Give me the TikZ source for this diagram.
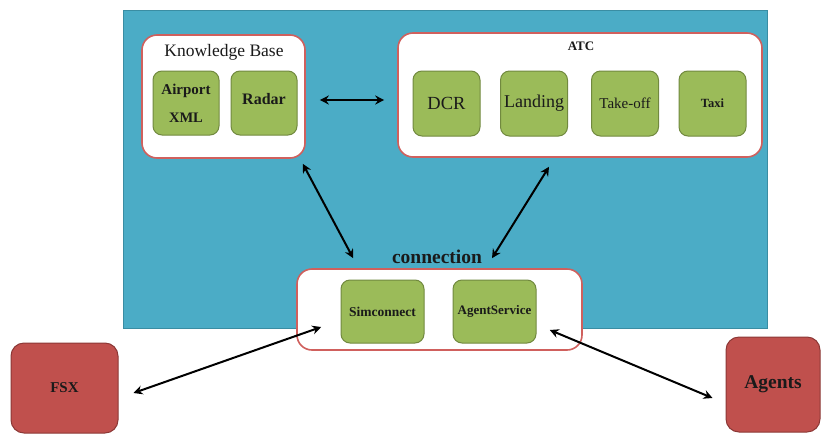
\documentclass[tikz,border=0pt]{standalone}
\usepackage{fontspec}
\setmainfont{Liberation Serif}
\usetikzlibrary{arrows.meta}
\definecolor{bgblue}{HTML}{4BACC6}
\definecolor{bgblueb}{HTML}{3A8DA3}
\definecolor{grn}{HTML}{9BBB59}
\definecolor{grnb}{HTML}{71893F}
\definecolor{redf}{HTML}{C0504D}
\definecolor{redb}{HTML}{8C3836}
\definecolor{pinkb}{HTML}{D0605D}
\definecolor{txt}{HTML}{1A1A1A}
\newcommand{\fs}[1]{\fontsize{#1}{#1}\selectfont}
\begin{document}
\begin{tikzpicture}[x=1pt,y=-1pt,
  groupbox/.style={draw=pinkb,fill=white,line width=1.6pt,rounded corners=15pt,inner sep=0pt},
  greenbox/.style={draw=grnb,fill=grn,line width=1pt,rounded corners=9pt,inner sep=0pt,
    minimum width=66pt,minimum height=64pt,text=txt,align=center},
  redbox/.style={draw=redb,fill=redf,line width=1pt,rounded corners=13pt,inner sep=0pt,text=txt,align=center},
  label/.style={text=txt,inner sep=0pt},
  arr/.style={line width=2pt,{Stealth[length=9pt,width=9pt,inset=3pt]}-{Stealth[length=9pt,width=9pt,inset=3pt]}}]
\useasboundingbox (0,0) rectangle (821,434);
% background panel
\fill[bgblue,draw=bgblueb,line width=1pt] (123,10) rectangle (767,328);
% Knowledge Base group
\node[groupbox,minimum width=163pt,minimum height=123pt] (kb) at (223.5,96.5) {};
\node[label] (kbt) at (224,52) {\fs{17.5}Knowledge Base};
\node[greenbox] (airport) at (186,103) {\fs{15}\bfseries Airport\\[14pt]\fs{14.5}\bfseries XML};
\node[greenbox] (radar) at (264,103) {\raisebox{8pt}{\fs{16}\bfseries Radar}};
% ATC group
\node[groupbox,minimum width=364pt,minimum height=124pt] (atc) at (580,95) {};
\node[label] (atct) at (581,46) {\fs{13}\bfseries ATC};
\node[greenbox,minimum width=67pt,minimum height=65pt] (dcr) at (446.5,103.5) {\fs{18.5}DCR};
\node[greenbox,minimum width=67pt,minimum height=65pt] (landing) at (534,103.5) {\raisebox{5pt}{\fs{18}Landing}};
\node[greenbox,minimum width=67pt,minimum height=65pt] (takeoff) at (625,103.5) {\fs{15}Take-off};
\node[greenbox,minimum width=67pt,minimum height=65pt] (taxi) at (712.5,103.5) {\fs{12.5}\bfseries Taxi};
% connection group
\node[groupbox,minimum width=285pt,minimum height=81pt] (conn) at (439.5,309.5) {};
\node[label] (connt) at (437,257) {\fs{19.5}\bfseries connection};
\node[greenbox,minimum width=83pt,minimum height=63pt] (sim) at (382.5,311.5) {\fs{13.5}\bfseries Simconnect};
\node[greenbox,minimum width=83pt,minimum height=63pt] (agent) at (494.5,311.5) {\fs{13}\bfseries AgentService};
% external
\node[redbox,minimum width=107pt,minimum height=90pt] (fsx) at (64.5,388) {\fs{15}\bfseries FSX};
\node[redbox,minimum width=94pt,minimum height=95pt] (agents) at (773,384.5) {\fs{19.5}\bfseries Agents};
% connectors
\draw[arr] ([shift={(14,3.5)}]kb.east) -- ([shift={(-13,5)}]atc.west);
\draw[arr] ([shift={(-3,5)}]kb.south east) -- ([shift={(57,-10)}]conn.north west);
\draw[arr] ([shift={(-31,9)}]atc.south) -- ([shift={(52.5,-10)}]conn.north);
\draw[arr] ([shift={(15,5)}]fsx.east) -- ([shift={(25,17.5)}]conn.west);
\draw[arr] ([shift={(-13,13.5)}]agents.west) -- ([shift={(-33,20.5)}]conn.east);
\end{tikzpicture}
\end{document}
